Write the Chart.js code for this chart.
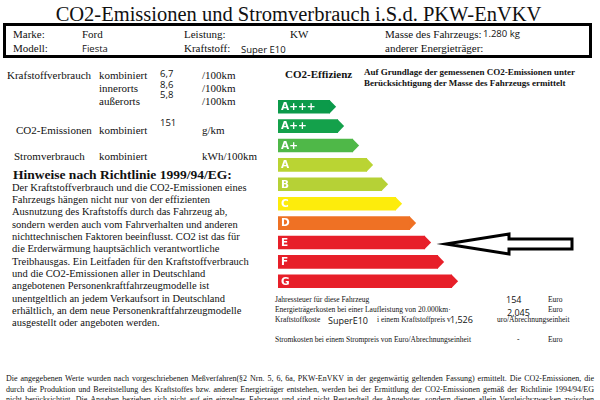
<!DOCTYPE html>
<html>

<head>
  <meta charset="utf-8">
  <title>CO2-Emissionen und Stromverbrauch i.S.d. PKW-EnVKV</title>
  <script src="https://cdn.jsdelivr.net/npm/chart.js"></script>
  <style>
    body { margin: 0; width: 600px; height: 400px; overflow: hidden; background: #fff; color: #111; font-family: "Liberation Serif", "Times New Roman", serif; position: relative; }
    .t { position: absolute; white-space: nowrap; line-height: 1; }
    .s { font-family: "Open Sans", sans-serif; }
    .b { font-weight: bold; }
    .f11 { font-size: 11px; }
    .f75 { font-size: 7.5px; }
    .n { font-family: "Open Sans", sans-serif; font-size: 9.5px; }
    #box { position: absolute; left: 3px; top: 23px; width: 583px; height: 29px; border: 3px solid #000; }
    #para { position: absolute; left: 12px; top: 181.7px; font-size: 10.5px; line-height: 12.33px; white-space: nowrap; }
    .foot { position: absolute; left: 6px; width: 588px; font-size: 8px; line-height: 1; white-space: nowrap; text-align: justify; text-align-last: justify; }
    #chartWrap { position: absolute; left: 278px; top: 97.3px; width: 322px; height: 194px; }
  </style>
</head>

<body>
  <div class="t" style="left:0;width:597px;text-align:center;top:3.8px;font-size:20.5px;">CO2-Emissionen und Stromverbrauch i.S.d. PKW-EnVKV</div>

  <div id="box"></div>
  <div class="t f11" style="left:13px;top:28.8px;">Marke:</div>
  <div class="t f11" style="left:82px;top:28.8px;">Ford</div>
  <div class="t f11" style="left:184px;top:28.8px;">Leistung:</div>
  <div class="t f11" style="left:290px;top:28.8px;">KW</div>
  <div class="t f11" style="left:385px;top:28.8px;">Masse des Fahrzeugs:</div>
  <div class="t n" style="left:483px;top:28.6px;">1.280 kg</div>
  <div class="t f11" style="left:13px;top:42.8px;">Modell:</div>
  <div class="t n" style="left:82px;top:43.6px;">Fiesta</div>
  <div class="t f11" style="left:184px;top:42.8px;">Kraftstoff:</div>
  <div class="t n" style="left:241px;top:44.6px;">Super E10</div>
  <div class="t f11" style="left:385px;top:42.8px;">anderer Energieträger:</div>

  <div class="t f11" style="left:7px;top:69.8px;">Krafstoffverbrauch</div>
  <div class="t f11" style="left:99px;top:69.8px;">kombiniert</div>
  <div class="t f11" style="left:99px;top:82.8px;">innerorts</div>
  <div class="t f11" style="left:99px;top:95.8px;">außerorts</div>
  <div class="t n" style="left:160px;top:69px;">6,7</div>
  <div class="t n" style="left:160px;top:80px;">8,6</div>
  <div class="t n" style="left:160px;top:89.5px;">5,8</div>
  <div class="t f11" style="left:202px;top:69.8px;">/100km</div>
  <div class="t f11" style="left:202px;top:82.8px;">/100km</div>
  <div class="t f11" style="left:202px;top:95.8px;">/100km</div>
  <div class="t f11" style="left:16px;top:125.3px;">CO2-Emissionen</div>
  <div class="t f11" style="left:99px;top:125.3px;">kombiniert</div>
  <div class="t n" style="left:160px;top:118px;">151</div>
  <div class="t f11" style="left:202px;top:125.3px;">g/km</div>
  <div class="t f11" style="left:14px;top:151.3px;">Stromverbrauch</div>
  <div class="t f11" style="left:99px;top:151.3px;">kombiniert</div>
  <div class="t f11" style="left:202px;top:151.3px;">kWh/100km</div>

  <div class="t b f11" style="left:285px;top:69.4px;">CO2-Effizienz</div>
  <div class="t b" style="left:364px;top:68px;font-size:9px;">Auf Grundlage der gemessenen CO2-Emissionen unter</div>
  <div class="t b" style="left:364px;top:78.5px;font-size:9px;">Berücksichtigung der Masse des Fahrzeugs ermittelt</div>

  <div class="t b" style="left:13px;top:168.2px;font-size:13.5px;">Hinweise nach Richtlinie 1999/94/EG:</div>
  <div id="para">Der Kraftstoffverbrauch und die CO2-Emissionen eines<br>Fahrzeugs hängen nicht nur von der effizienten<br>Ausnutzung des Kraftstoffs durch das Fahrzeug ab,<br>sondern werden auch vom Fahrverhalten und anderen<br>nichttechnischen Faktoren beeinflusst. CO2 ist das für<br>die Erderwärmung hauptsächlich verantwortliche<br>Treibhausgas. Ein Leitfaden für den Kraftstoffverbrauch<br>und die CO2-Emissionen aller in Deutschland<br>angebotenen Personenkraftfahrzeugmodelle ist<br>unentgeltlich an jedem Verkaufsort in Deutschland<br>erhältlich, an dem neue Personenkraftfahrzeugmodelle<br>ausgestellt oder angeboten werden.</div>

  <div id="chartWrap"><canvas id="effChart"></canvas></div>

  <div class="t f75" style="left:275px;top:296.4px;">Jahressteuer für diese Fahrzeug</div>
  <div class="t s" style="left:506px;top:295.2px;font-size:9px;">154</div>
  <div class="t f75" style="left:548px;top:296.4px;">Euro</div>
  <div class="t f75" style="left:275px;top:306.4px;">Energieträgerkosten bei einer Laufleistung von 20.000km·</div>
  <div class="t s" style="left:507px;top:308.2px;font-size:9px;">2,045</div>
  <div class="t f75" style="left:548px;top:306.4px;">Euro</div>
  <div class="t f75" style="left:275px;top:316.4px;">Kraftstoffkoste</div>
  <div class="t s" style="left:328px;top:315.5px;font-size:9px;">SuperE10</div>
  <div class="t f75" style="left:377px;top:316.4px;">i einem Kraftstoffpreis v</div>
  <div class="t s" style="left:450px;top:315.2px;font-size:9px;">1,526</div>
  <div class="t f75" style="left:497px;top:316.4px;">uro/Abrechnungseinheit</div>
  <div class="t f75" style="left:275px;top:336.4px;">Stromkosten bei einem Strompreis von Euro/Abrechnungseinheit</div>
  <div class="t f75" style="left:517px;top:336.4px;">-</div>
  <div class="t f75" style="left:548px;top:336.4px;">Euro</div>

  <div class="foot" style="top:375.3px;">Die angegebenen Werte wurden nach vorgeschriebenen Meßverfahren(§2 Nrn. 5, 6, 6a, PKW-EnVKV in der gegenwärtig geltenden Fassung) ermittelt. Die CO2-Emissionen, die</div>
  <div class="foot" style="top:386.3px;">durch die Produktion und Bereitstellung des Kraftstoffes bzw. anderer Energieträger entstehen, werden bei der Ermittlung der CO2-Emissionen gemäß der Richtlinie 1994/94/EG</div>
  <div class="foot" style="top:396.3px;">nicht berücksichtigt. Die Angaben beziehen sich nicht auf ein einzelnes Fahrzeug und sind nicht Bestandteil des Angebotes, sondern dienen allein Vergleichszwecken zwischen</div>

<script>
    const classes = ['A+++', 'A++', 'A+', 'A', 'B', 'C', 'D', 'E', 'F', 'G'];
    const barLengths = [52, 60, 75, 89, 104, 118, 132, 147, 160, 174];
    const classColors = ['#0b9a4a', '#14a14b', '#4fb848', '#bad433', '#b6d136', '#fdec0c', '#ef7124', '#e71f29', '#e71f29', '#e71f29'];
    const currentClass = 'E';

    // pointy ends, labels and the big arrow for the current class
    const labelPlugin = {
        id: 'labelArrows',
        afterDatasetsDraw(chart) {
            const ctx = chart.ctx;
            const meta = chart.getDatasetMeta(0);
            ctx.save();
            meta.data.forEach((bar, i) => {
                const h = bar.height;
                ctx.fillStyle = classColors[i];
                ctx.beginPath();
                ctx.moveTo(bar.x - 0.5, bar.y - h / 2);
                ctx.lineTo(bar.x + h * 0.45, bar.y);
                ctx.lineTo(bar.x - 0.5, bar.y + h / 2);
                ctx.closePath();
                ctx.fill();
                ctx.fillStyle = '#fff';
                ctx.font = 'bold 10.5px "DejaVu Sans", sans-serif';
                ctx.textBaseline = 'middle';
                ctx.fillText(classes[i], bar.base + 3, bar.y + 0.5);
            });
            const cur = meta.data[classes.indexOf(currentClass)];
            const x0 = cur.x + 21, y0 = cur.y + 1.5;
            ctx.beginPath();
            ctx.moveTo(x0, y0);
            ctx.lineTo(x0 + 63, y0 - 10);
            ctx.lineTo(x0 + 63, y0 - 5);
            ctx.lineTo(x0 + 126, y0 - 5);
            ctx.lineTo(x0 + 126, y0 + 5);
            ctx.lineTo(x0 + 63, y0 + 5);
            ctx.lineTo(x0 + 63, y0 + 10);
            ctx.closePath();
            ctx.fillStyle = '#fff';
            ctx.fill();
            ctx.lineWidth = 3;
            ctx.lineJoin = 'miter';
            ctx.strokeStyle = '#000';
            ctx.stroke();
            ctx.restore();
        }
    };

    new Chart(document.getElementById('effChart'), {
        type: 'bar',
        data: {
            labels: classes,
            datasets: [{
                data: barLengths,
                backgroundColor: classColors,
                borderWidth: 0,
                barPercentage: 0.7,
                categoryPercentage: 1,
            }]
        },
        options: {
            indexAxis: 'y',
            responsive: true,
            maintainAspectRatio: false,
            animation: false,
            layout: { padding: 0 },
            plugins: { legend: { display: false }, tooltip: { enabled: false } },
            scales: {
                x: { display: false, min: 0, max: 322 },
                y: { display: false }
            }
        },
        plugins: [labelPlugin]
    });
</script>
</body>

</html>
